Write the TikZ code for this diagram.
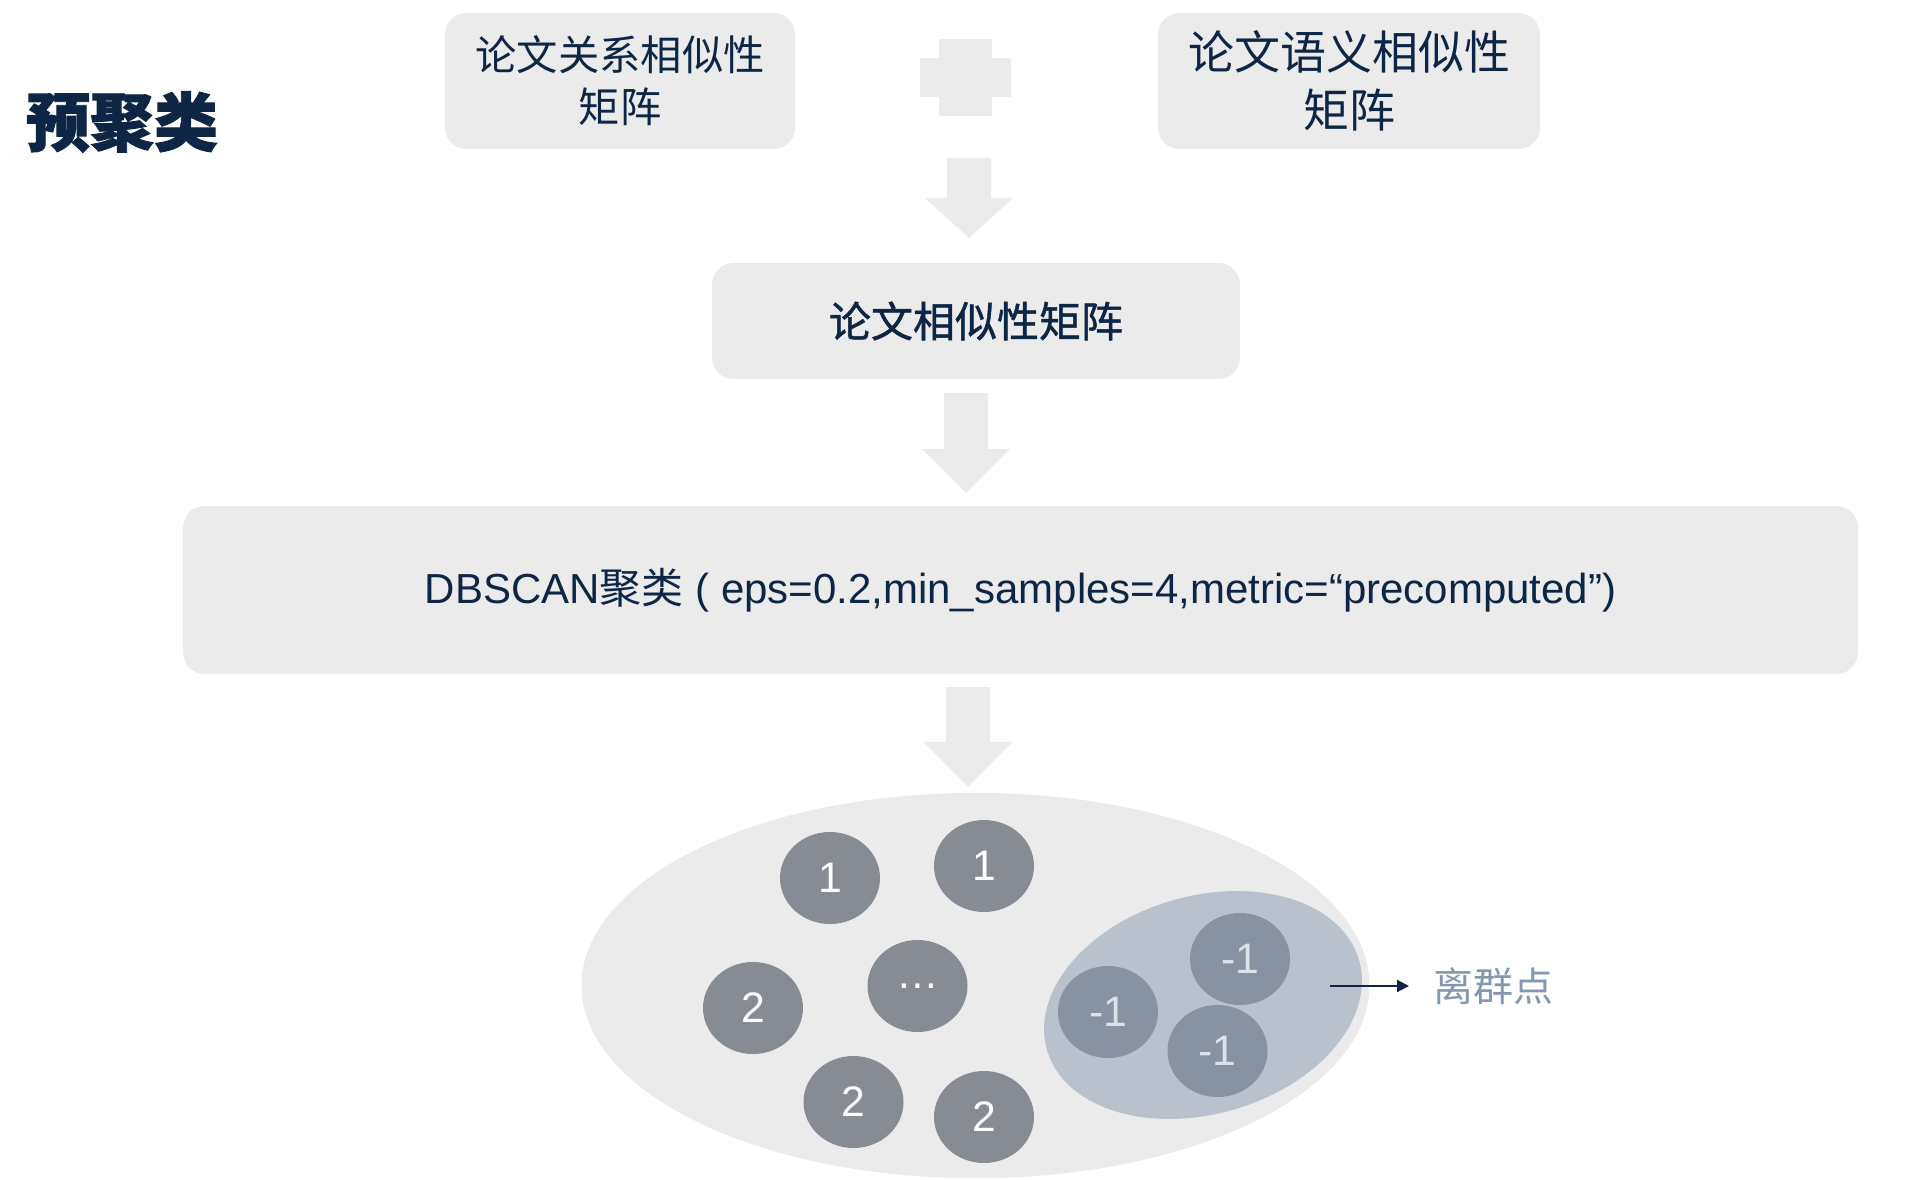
\documentclass[tikz,border=0pt]{standalone}
\usepackage{fontspec}
\setmainfont{Liberation Sans}
\newfontfamily\cjk{Noto Sans CJK SC}
\newfontfamily\cjkmid{Noto Sans CJK SC}[FakeBold=1.2]
\newfontfamily\cjkheavy{Noto Sans CJK SC}[BoldFeatures={FakeBold=1.5}]
\usetikzlibrary{shapes.geometric,arrows.meta}
\definecolor{navy}{HTML}{0E2645}
\definecolor{panel}{HTML}{EBEBEB}
\definecolor{dotgray}{HTML}{878C94}
\definecolor{outfill}{HTML}{B8C1CC}
\definecolor{outdot}{HTML}{8893A1}
\definecolor{outtext}{HTML}{DDE2E8}
\definecolor{labelblue}{HTML}{8497B0}
\tikzstyle{box} = [fill=panel, rounded corners=16pt, inner sep=0pt, text=navy, align=center]
\tikzstyle{dot} = [ellipse, fill=dotgray, minimum width=75pt, minimum height=69pt, inner sep=0pt, text=white, font=\fontsize{32}{32}\selectfont]
\tikzstyle{outlier} = [dot, fill=outdot, text=outtext]
\tikzstyle{pointer} = [line width=1.5pt, navy, -{Triangle[length=9pt,width=9pt]}]
% block arrow: centre x, top y, start of head, tip
\newcommand{\downblock}[4]{\fill[panel] (#1-22,#2) -- (#1+22,#2) -- (#1+22,#3) -- (#1+44,#3) -- (#1,#4) -- (#1-44,#3) -- (#1-22,#3) -- cycle;}

\begin{document}
\begin{tikzpicture}[x=0.75pt,y=-0.75pt]
    \useasboundingbox (0,0) rectangle (1920,1180);
    \node[text=navy, font=\cjkheavy\bfseries\fontsize{48}{48}\selectfont] (title) at (122,122) {预聚类};

    % input matrices
    \node[box, minimum width=262.5pt, minimum height=102pt, font=\cjk\fontsize{31}{39}\selectfont] (rel) at (620,81) {论文关系相似性\\矩阵};
    \node[box, minimum width=286.5pt, minimum height=102pt, font=\cjk\fontsize{34.5}{43}\selectfont] (sem) at (1349,81) {论文语义相似性\\矩阵};
    \fill[panel] (939,39) rectangle (991.5,116);
    \fill[panel] (920,58) rectangle (1011,97);
    \downblock{969}{158}{198}{238}

    \node[box, minimum width=396pt, minimum height=87pt, font=\cjkmid\fontsize{31.5}{38}\selectfont] (sim) at (976,321) {论文相似性矩阵};
    \downblock{966}{393}{449}{493}

    \node[box, minimum width=1256pt, minimum height=126pt, font=\fontsize{31.5}{38}\selectfont] (dbscan) at (1020.5,590)
        {DBSCAN{\cjk 聚类} ( eps=0.2,min\_samples=4,metric=“precomputed”)};
    \downblock{968}{687}{742}{787}

    % clustering result
    \node[ellipse, fill=panel, minimum width=591pt, minimum height=289pt, inner sep=0pt] (pool) at (975.5,985.5) {};
    \node[ellipse, fill=outfill, rotate=16, minimum width=243.6pt, minimum height=163.5pt, inner sep=0pt] (noise) at (1203,1005) {};
    \foreach \px/\py/\lab [count=\i] in {830/878/1, 984/866/1, 753/1008/2, 917.5/986/\dots, 853.5/1102/2, 984/1117/2}{
        \node[dot] (c\i) at (\px,\py) {\lab};
    }
    \foreach \px/\py [count=\i] in {1240/959, 1108/1012, 1217.5/1051}{
        \node[outlier] (n\i) at (\px,\py) {-1};
    }
    \coordinate (noiseout) at (1330,986);
    \node[anchor=west, inner sep=0pt, text=labelblue, font=\cjk\fontsize{30}{30}\selectfont] (lbl) at (1433,986) {离群点};
    \draw[pointer, shorten >=18pt] (noiseout) -- (lbl.west);
\end{tikzpicture}
\end{document}
